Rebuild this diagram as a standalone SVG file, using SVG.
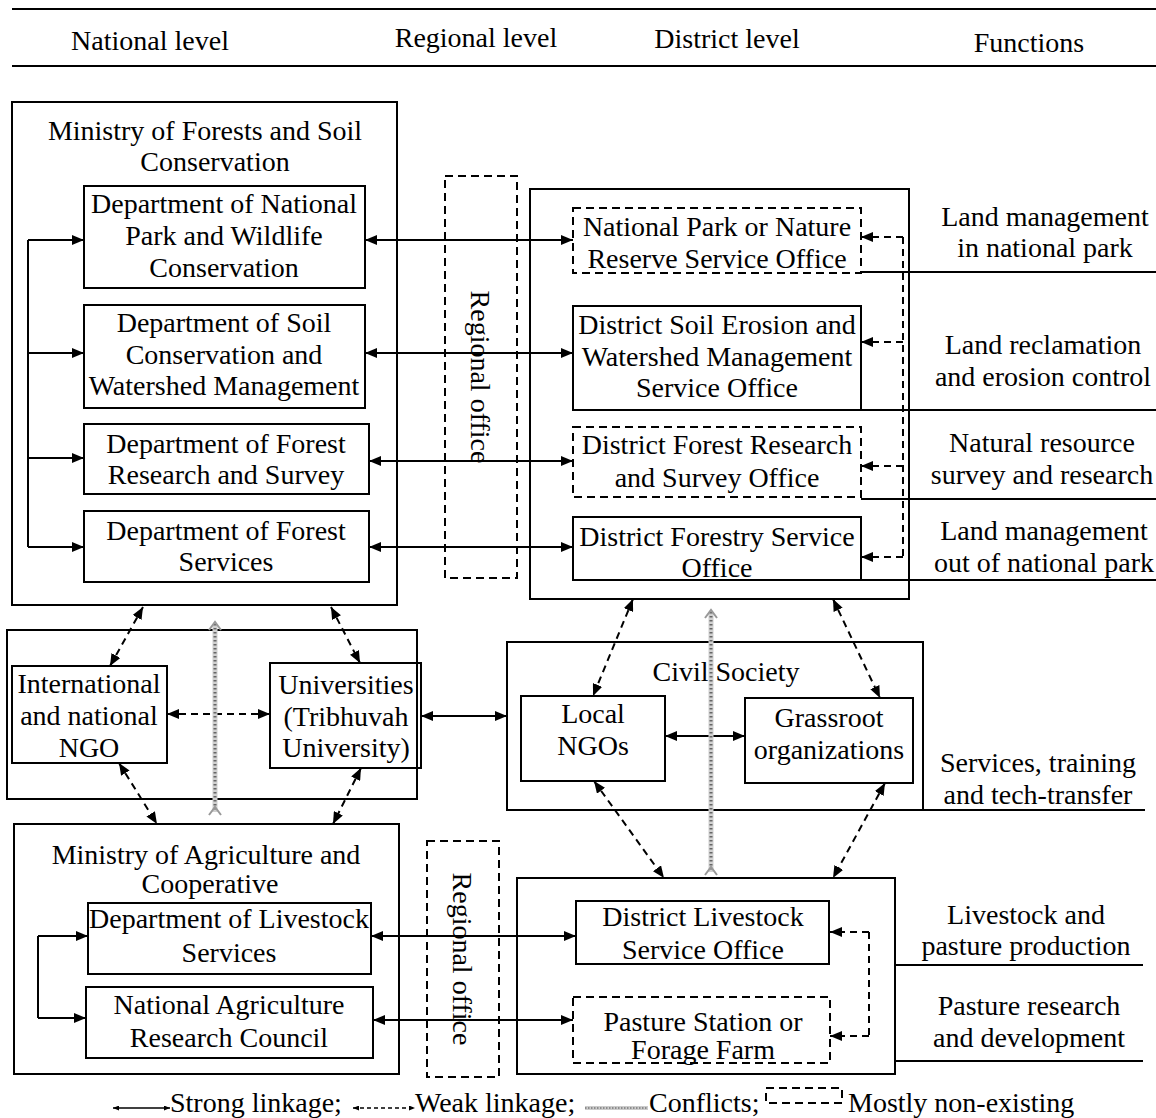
<svg xmlns="http://www.w3.org/2000/svg" width="1156" height="1118" viewBox="0 0 1156 1118">
<defs>
<style>
.t{font-family:"Liberation Serif","Times New Roman",serif;font-size:28px;fill:#000;text-anchor:middle}
.box{fill:none;stroke:#000;stroke-width:2}
.dbox{fill:none;stroke:#000;stroke-width:2;stroke-dasharray:8 5}
.s{fill:none;stroke:#000;stroke-width:2}
.w{fill:none;stroke:#000;stroke-width:2;stroke-dasharray:7 5}
.sa{fill:none;stroke:#000;stroke-width:2;marker-end:url(#ah)}
.sd{fill:none;stroke:#000;stroke-width:2;marker-start:url(#ah);marker-end:url(#ah)}
.wa{fill:none;stroke:#000;stroke-width:2;stroke-dasharray:7 5;marker-end:url(#ah)}
.wd{fill:none;stroke:#000;stroke-width:2;stroke-dasharray:7 5;marker-start:url(#ah);marker-end:url(#ah)}
.c1{fill:none;stroke:#d0d0d0;stroke-width:5}
.c2{fill:none;stroke:#666;stroke-width:3;stroke-dasharray:1.5 2.5}
.cv{fill:none;stroke:#999;stroke-width:2}
.fl{fill:none;stroke:#000;stroke-width:2}
</style>
<marker id="ah" viewBox="0 0 12 10" refX="12" refY="5" markerWidth="12" markerHeight="10" markerUnits="userSpaceOnUse" orient="auto-start-reverse">
<path d="M0,0 L12,5 L0,10 z" fill="#000"/>
</marker>
<marker id="ahs" viewBox="0 0 6 5" refX="6" refY="2.5" markerWidth="6" markerHeight="5" markerUnits="userSpaceOnUse" orient="auto-start-reverse">
<path d="M0,0 L6,2.5 L0,5 z" fill="#000"/>
</marker>
</defs>
<rect width="1156" height="1118" fill="#fff"/>

<g id="header">
<line x1="12" y1="9" x2="1156" y2="9" class="fl" stroke-width="2.5"/>
<line x1="12" y1="66" x2="1156" y2="66" class="fl" stroke-width="2.5"/>
<text class="t" x="150" y="50">National level</text>
<text class="t" x="476" y="47">Regional level</text>
<text class="t" x="727" y="48">District level</text>
<text class="t" x="1029" y="52">Functions</text>
</g>

<g id="ministry-forests">
<rect class="box" x="12" y="102" width="385" height="503"/>
<text class="t" x="205" y="140">Ministry of Forests and Soil</text>
<text class="t" x="215" y="171">Conservation</text>
</g>
<g id="dnpwc">
<rect class="box" x="84" y="186" width="281" height="102"/>
<text class="t" x="224" y="213">Department of National</text>
<text class="t" x="224" y="245">Park and Wildlife</text>
<text class="t" x="224" y="277">Conservation</text>
</g>
<g id="dscwm">
<rect class="box" x="84" y="305" width="281" height="103"/>
<text class="t" x="224" y="332">Department of Soil</text>
<text class="t" x="224" y="364">Conservation and</text>
<text class="t" x="224" y="395">Watershed Management</text>
</g>
<g id="dfrs">
<rect class="box" x="84" y="424" width="285" height="70"/>
<text class="t" x="226" y="453">Department of Forest</text>
<text class="t" x="226" y="484">Research and Survey</text>
</g>
<g id="dfs">
<rect class="box" x="84" y="511" width="285" height="71"/>
<text class="t" x="226" y="540">Department of Forest</text>
<text class="t" x="226" y="571">Services</text>
</g>

<g id="regional-office-1">
<rect class="dbox" x="445" y="176" width="72" height="402"/>
<text class="t" transform="translate(471,377) rotate(90)" x="0" y="0">Regional office</text>
</g>

<g id="district-1">
<rect class="box" x="530" y="189" width="379" height="410"/>
</g>
<g id="np-office">
<rect class="dbox" x="573" y="208" width="288" height="65"/>
<text class="t" x="717" y="236">National Park or Nature</text>
<text class="t" x="717" y="268">Reserve Service Office</text>
</g>
<g id="dsewmso">
<rect class="box" x="573" y="306" width="288" height="104"/>
<text class="t" x="717" y="334">District Soil Erosion and</text>
<text class="t" x="717" y="366">Watershed Management</text>
<text class="t" x="717" y="397">Service Office</text>
</g>
<g id="dfrso">
<rect class="dbox" x="573" y="427" width="288" height="70"/>
<text class="t" x="717" y="454">District Forest Research</text>
<text class="t" x="717" y="487">and Survey Office</text>
</g>
<g id="dfso">
<rect class="box" x="573" y="517" width="288" height="63"/>
<text class="t" x="717" y="546">District Forestry Service</text>
<text class="t" x="717" y="577">Office</text>
</g>

<g id="functions">
<text class="t" x="1045" y="226">Land management</text>
<text class="t" x="1045" y="257">in national park</text>
<line class="fl" x1="861" y1="272" x2="1156" y2="272"/>
<text class="t" x="1043" y="354">Land reclamation</text>
<text class="t" x="1043" y="386">and erosion control</text>
<line class="fl" x1="861" y1="410" x2="1156" y2="410"/>
<text class="t" x="1042" y="452">Natural resource</text>
<text class="t" x="1042" y="484">survey and research</text>
<line class="fl" x1="861" y1="499" x2="1156" y2="499"/>
<text class="t" x="1044" y="540">Land management</text>
<text class="t" x="1044" y="572">out of national park</text>
<line class="fl" x1="861" y1="580" x2="1156" y2="580"/>
<text class="t" x="1038" y="772">Services, training</text>
<text class="t" x="1038" y="804">and tech-transfer</text>
<line class="fl" x1="923" y1="810" x2="1145" y2="810"/>
<text class="t" x="1026" y="924">Livestock and</text>
<text class="t" x="1026" y="955">pasture production</text>
<line class="fl" x1="895" y1="965" x2="1143" y2="965"/>
<text class="t" x="1029" y="1015">Pasture research</text>
<text class="t" x="1029" y="1047">and development</text>
<line class="fl" x1="895" y1="1061" x2="1143" y2="1061"/>
</g>

<g id="ngo-group">
<rect class="box" x="7" y="630" width="410" height="169"/>
</g>
<g id="int-ngo">
<rect class="box" x="12" y="666" width="155" height="97"/>
<text class="t" x="89" y="693">International</text>
<text class="t" x="89" y="725">and national</text>
<text class="t" x="89" y="757">NGO</text>
</g>
<g id="universities">
<rect class="box" x="270" y="663" width="151" height="105"/>
<text class="t" x="346" y="694">Universities</text>
<text class="t" x="346" y="726">(Tribhuvah</text>
<text class="t" x="346" y="757">University)</text>
</g>

<g id="civil-society">
<rect class="box" x="507" y="642" width="416" height="168"/>
<text class="t" x="726" y="681">Civil Society</text>
</g>
<g id="local-ngos">
<rect class="box" x="521" y="696" width="144" height="85"/>
<text class="t" x="593" y="723">Local</text>
<text class="t" x="593" y="755">NGOs</text>
</g>
<g id="grassroot">
<rect class="box" x="745" y="698" width="168" height="85"/>
<text class="t" x="829" y="727">Grassroot</text>
<text class="t" x="829" y="759">organizations</text>
</g>

<g id="ministry-agri">
<rect class="box" x="14" y="824" width="385" height="250"/>
<text class="t" x="206" y="864">Ministry of Agriculture and</text>
<text class="t" x="210" y="893">Cooperative</text>
</g>
<g id="dls">
<rect class="box" x="88" y="903" width="283" height="71"/>
<text class="t" x="229" y="928">Department of Livestock</text>
<text class="t" x="229" y="962">Services</text>
</g>
<g id="narc">
<rect class="box" x="86" y="987" width="287" height="71"/>
<text class="t" x="229" y="1014">National Agriculture</text>
<text class="t" x="229" y="1047">Research Council</text>
</g>

<g id="regional-office-2">
<rect class="dbox" x="427" y="841" width="72" height="236"/>
<text class="t" transform="translate(453,959) rotate(90)" x="0" y="0">Regional office</text>
</g>

<g id="district-2">
<rect class="box" x="517" y="878" width="378" height="196"/>
</g>
<g id="dlso">
<rect class="box" x="576" y="901" width="253" height="63"/>
<text class="t" x="703" y="926">District Livestock</text>
<text class="t" x="703" y="959">Service Office</text>
</g>
<g id="pasture">
<rect class="dbox" x="573" y="997" width="257" height="66"/>
<text class="t" x="703" y="1031">Pasture Station or</text>
<text class="t" x="703" y="1059">Forage Farm</text>
</g>

<g id="connectors">
<path class="s" d="M28,240 V547"/>
<path class="sa" d="M28,240 H84"/>
<path class="sa" d="M28,353 H84"/>
<path class="sa" d="M28,458 H84"/>
<path class="sa" d="M28,547 H84"/>
<path class="sd" d="M365,240 H573"/>
<path class="sd" d="M365,353 H573"/>
<path class="sd" d="M369,461 H573"/>
<path class="sd" d="M369,547 H573"/>
<path class="w" d="M903,237 V557"/>
<path class="wa" d="M903,237 H861"/>
<path class="wa" d="M903,342 H861"/>
<path class="wa" d="M903,466 H861"/>
<path class="wa" d="M903,557 H861"/>

<path class="s" d="M38,936 V1018"/>
<path class="sa" d="M38,936 H88"/>
<path class="sa" d="M38,1018 H86"/>
<path class="sd" d="M371,936 H576"/>
<path class="sd" d="M373,1020 H573"/>
<path class="w" d="M869,932 V1036"/>
<path class="wa" d="M869,932 H830"/>
<path class="wa" d="M869,1036 H830"/>

<path class="wd" d="M167,714 H270"/>
<path class="sd" d="M421,716 H507"/>
<path class="sd" d="M665,736 H745"/>

<path class="wd" d="M143,607 L110,666"/>
<path class="wd" d="M331,607 L360,663"/>
<path class="wd" d="M119,763 L157,824"/>
<path class="wd" d="M361,768 L333,824"/>
<path class="wd" d="M633,599 L593,696"/>
<path class="wd" d="M833,599 L880,698"/>
<path class="wd" d="M594,781 L664,878"/>
<path class="wd" d="M885,783 L833,878"/>

<g id="conflict-1">
<path class="c1" d="M215,624 V812"/>
<path class="c2" d="M215,624 V812"/>
<path class="cv" d="M209,630 L215,622 L221,630 M209,815 L215,807 L221,815"/>
</g>
<g id="conflict-2">
<path class="c1" d="M711,612 V872"/>
<path class="c2" d="M711,612 V872"/>
<path class="cv" d="M705,618 L711,610 L717,618 M705,875 L711,867 L717,875"/>
</g>
</g>

<g id="legend">
<path fill="none" stroke="#000" stroke-width="1.5" d="M113,1108 H170" marker-start="url(#ahs)" marker-end="url(#ahs)"/>
<text class="t" x="170" y="1112" style="text-anchor:start">Strong linkage;</text>
<path fill="none" stroke="#000" stroke-width="1.5" d="M353,1108 H415" stroke-dasharray="4 3" marker-start="url(#ahs)" marker-end="url(#ahs)"/>
<text class="t" x="415" y="1112" style="text-anchor:start">Weak linkage;</text>
<path d="M585,1108 H648" fill="none" stroke="#ccc" stroke-width="4"/>
<path d="M585,1108 H648" fill="none" stroke="#777" stroke-width="1.5" stroke-dasharray="1.5 1.5"/>
<text class="t" x="649" y="1112" style="text-anchor:start">Conflicts;</text>
<rect class="dbox" x="766" y="1088" width="76" height="15" stroke-dasharray="6 4"/>
<text class="t" x="848" y="1112" style="text-anchor:start">Mostly non-existing</text>
</g>
</svg>
